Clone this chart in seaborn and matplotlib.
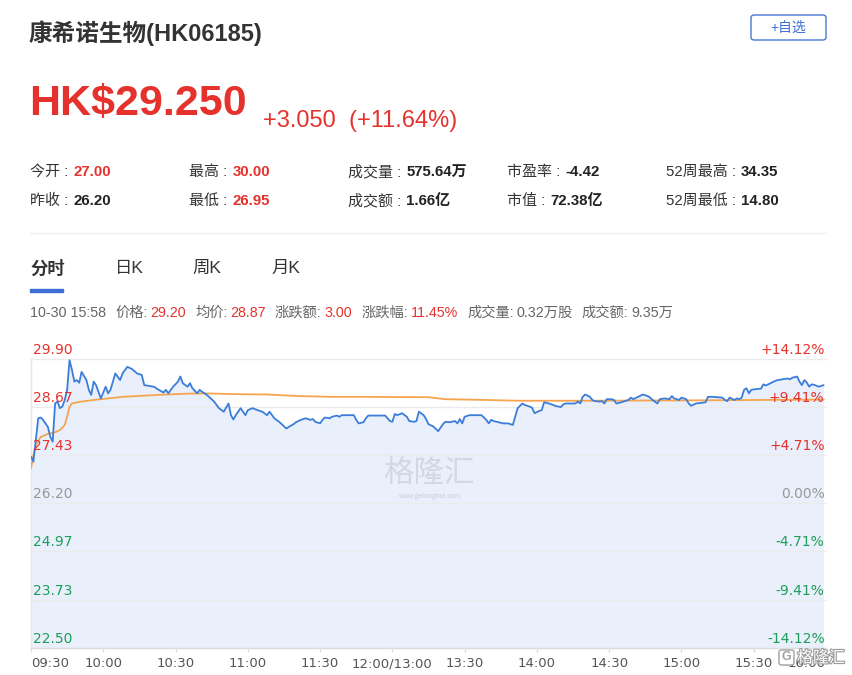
import numpy as np
import pandas as pd
import matplotlib
matplotlib.use("Agg")
import matplotlib.pyplot as plt
import matplotlib.patheffects as pe
from matplotlib.patches import FancyBboxPatch, Rectangle
from matplotlib.lines import Line2D
import seaborn as sns

# intraday data, minute = trading minutes since 09:30 (lunch break skipped)
minute = [0, 1, 3, 4, 5, 7, 8, 9, 10, 11, 12, 13, 14, 15, 16, 17, 18, 19, 20, 21,
          23, 24, 25, 26, 27, 29, 31, 32, 33, 35, 37, 38, 40, 42, 44, 46, 47, 51, 53, 55,
          56, 57, 59, 61, 62, 63, 65, 66, 67, 69, 70, 71, 73, 76, 78, 80, 82, 83, 84, 85,
          87, 89, 90, 92, 94, 96, 98, 99, 101, 103, 106, 107, 109, 110, 112, 114, 116, 117, 118, 120,
          121, 122, 124, 125, 127, 128, 129, 134, 135, 136, 138, 139, 140, 147, 149, 150, 151, 152, 154, 156,
          157, 159, 160, 161, 163, 164, 165, 167, 169, 171, 172, 174, 176, 177, 178, 179, 180, 182, 187, 189,
          190, 191, 192, 194, 196, 198, 200, 201, 202, 204, 205, 207, 208, 209, 211, 212, 213, 215, 216, 218,
          220, 221, 222, 226, 227, 228, 229, 230, 232, 233, 234, 236, 237, 238, 239, 241, 242, 243, 245, 246,
          248, 249, 250, 252, 254, 256, 257, 258, 260, 261, 263, 265, 266, 267, 269, 270, 272, 273, 274, 276,
          280, 281, 283, 287, 288, 289, 290, 292, 293, 294, 295, 296, 297, 298, 299, 301, 303, 304, 305, 307,
          309, 310, 312, 314, 315, 316, 318, 319, 320, 321, 322, 323, 324, 325, 327, 328, 329]
price = [27.40, 27.27, 28.38, 28.40, 28.34, 28.16, 27.91, 27.78, 28.76, 28.81, 28.64, 28.68, 28.85, 29.11, 29.87, 29.62, 29.32, 29.36, 29.29, 29.57,
         29.36, 29.11, 28.98, 29.32, 29.23, 28.89, 29.19, 29.02, 29.11, 29.53, 29.36, 29.53, 29.70, 29.64, 29.53, 29.49, 29.23, 29.19, 29.11, 29.04,
         29.11, 29.02, 29.19, 29.32, 29.45, 29.28, 29.19, 29.28, 29.15, 29.02, 29.11, 29.06, 28.98, 28.81, 28.64, 28.55, 28.76, 28.46, 28.35, 28.46,
         28.64, 28.46, 28.59, 28.64, 28.59, 28.55, 28.46, 28.55, 28.38, 28.29, 28.12, 28.16, 28.23, 28.28, 28.34, 28.38, 28.34, 28.36, 28.29, 28.25,
         28.34, 28.40, 28.38, 28.42, 28.45, 28.42, 28.46, 28.46, 28.34, 28.25, 28.28, 28.38, 28.45, 28.45, 28.31, 28.29, 28.49, 28.46, 28.51, 28.42,
         28.31, 28.29, 28.31, 28.55, 28.46, 28.36, 28.23, 28.17, 28.05, 28.23, 28.29, 28.28, 28.31, 28.25, 28.36, 28.25, 28.42, 28.46, 28.46, 28.34,
         28.25, 28.34, 28.31, 28.28, 28.25, 28.25, 28.21, 28.42, 28.64, 28.76, 28.72, 28.68, 28.65, 28.51, 28.57, 28.59, 28.79, 28.76, 28.74, 28.69,
         28.67, 28.74, 28.76, 28.76, 28.81, 28.76, 28.93, 28.99, 28.93, 28.85, 28.82, 28.81, 28.82, 28.76, 28.87, 28.87, 28.85, 28.76, 28.79, 28.81,
         28.85, 28.91, 28.87, 28.93, 28.99, 28.95, 28.91, 28.85, 28.76, 28.87, 28.89, 28.87, 28.95, 28.89, 28.85, 28.91, 28.87, 28.76, 28.70, 28.76,
         28.79, 28.93, 28.93, 28.91, 28.85, 28.82, 28.91, 28.85, 28.89, 28.87, 28.91, 29.11, 29.15, 29.02, 29.11, 29.13, 29.14, 29.25, 29.22, 29.28,
         29.34, 29.36, 29.38, 29.40, 29.38, 29.42, 29.45, 29.32, 29.23, 29.36, 29.30, 29.19, 29.25, 29.24, 29.19, 29.21, 29.23]

avg_minute = [0, 1, 2, 4, 7, 10, 12, 13, 14, 15, 16, 17, 20, 26, 38, 53, 64, 72, 84, 98,
              111, 125, 139, 165, 172, 189, 202, 230, 277, 329]
avg_price = [27.10, 27.44, 27.70, 27.90, 27.98, 28.02, 28.08, 28.14, 28.21, 28.42, 28.68, 28.76, 28.80, 28.85, 28.93, 28.98, 29.01, 29.02, 29.00, 28.99,
             28.95, 28.93, 28.93, 28.92, 28.87, 28.85, 28.83, 28.83, 28.84, 28.86]

y_levels = [29.90, 28.67, 27.43, 26.20, 24.97, 23.73, 22.50]
pct_labels = ["+14.12%", "+9.41%", "+4.71%", "0.00%", "-4.71%", "-9.41%", "-14.12%"]
tick_minutes = [0, 30, 60, 90, 120, 150, 180, 210, 240, 270, 300, 330]
tick_labels = ["09:30", "10:00", "10:30", "11:00", "11:30", "12:00/13:00", "13:30",
               "14:00", "14:30", "15:00", "15:30", "16:00"]

stats_labels = [["今开 :", "最高 :", "成交量 :", "市盈率 :", "52周最高 :"],
                ["昨收 :", "最低 :", "成交额 :", "市值 :", "52周最低 :"]]
stats_values = [["27.00", "30.00", "575.64万", "-4.42", "34.35"],
                ["26.20", "26.95", "1.66亿", "72.38亿", "14.80"]]
stats_red = [[True, True, False, False, False],
             [False, True, False, False, False]]

info_items = [("价格:", "29.20", True), ("均价:", "28.87", True), ("涨跌额:", "3.00", True),
              ("涨跌幅:", "11.45%", True), ("成交量:", "0.32万股", False), ("成交额:", "9.35万", False)]

RED = "#e5322d"
GREEN = "#1e9e5a"
BLUE = "#3b7dd8"
ORANGE = "#f5a54f"
FILL = "#e9effb"
DARK = "#333333"
MID = "#666666"

sns.set_theme(style="white")
plt.rcParams["font.family"] = ["Liberation Sans", "Noto Sans CJK SC", "DejaVu Sans"]

W, H = 853, 675
fig = plt.figure(figsize=(W / 100, H / 100), dpi=100)
renderer = fig.canvas.get_renderer()


def put(x, y, s, **kw):
    kw.setdefault("va", "center")
    return fig.text(x / W, 1 - y / H, s, **kw)


def right_of(t):
    return t.get_window_extent(renderer).x1


# header
put(29, 33, "康希诺生物(HK06185)", fontsize=17, fontweight="bold", color=DARK)
fig.add_artist(FancyBboxPatch((751 / W, 1 - 40 / H), 75 / W, 25 / H,
                              boxstyle="round,pad=0,rounding_size=0.004",
                              transform=fig.transFigure, fc="white", ec="#4a78d4", lw=1))
put(788, 28, "+自选", fontsize=10, color="#3d6fd6", ha="center")

put(29, 104, "HK$29.250", fontsize=31, fontweight="bold", color=RED)
put(263, 121, "+3.050  (+11.64%)", fontsize=17, color=RED)

col_x = [30, 189, 348, 507, 666]
row_y = [172, 201]
for r in range(2):
    for c in range(5):
        lab = put(col_x[c], row_y[r], stats_labels[r][c], fontsize=10.8, color=DARK)
        x1 = right_of(lab)
        put(x1 + 5, row_y[r], stats_values[r][c], fontsize=10.8, fontweight="bold",
            color=RED if stats_red[r][c] else "#222222")

fig.add_artist(Line2D([30 / W, 826 / W], [1 - 233 / H] * 2, color="#eeeeee", lw=1,
                      transform=fig.transFigure))

# tabs
put(30, 268, "分时", fontsize=12.5, fontweight="bold", color=DARK)
put(115, 268, "日K", fontsize=12.5, color=DARK)
put(192, 268, "周K", fontsize=12.5, color=DARK)
put(271, 268, "月K", fontsize=12.5, color=DARK)
fig.add_artist(Rectangle((30 / W, 1 - 292 / H), 33 / W, 3 / H, color="#3d6fd6",
                         transform=fig.transFigure))

# info line
t = put(30, 313, "10-30 15:58", fontsize=10.3, color=MID)
x = right_of(t) + 9
for lab, val, red in info_items:
    t = put(x, 313, lab, fontsize=10.3, color=MID)
    t = put(right_of(t) + 3, 313, val, fontsize=10.3, color=RED if red else MID)
    x = right_of(t) + 9

# chart
ax = fig.add_axes([31 / W, 1 - 647.7 / H, (826 - 31) / W, (647.7 - 359) / H])
df = pd.DataFrame({"minute": minute, "price": price})
avg = pd.DataFrame({"minute": avg_minute, "price": avg_price})
ax.fill_between(df["minute"], df["price"], y_levels[-1], color=FILL, lw=0, zorder=1)
sns.lineplot(data=df, x="minute", y="price", ax=ax, color=BLUE, lw=1.3, zorder=4)
sns.lineplot(data=avg, x="minute", y="price", ax=ax, color=ORANGE, lw=1.3, zorder=3)
ax.set_xlim(0, 330)
ax.set_ylim(y_levels[-1], y_levels[0])
for lv in y_levels:
    ax.axhline(lv, color="#ebebeb", lw=1, zorder=2, clip_on=False)

colors = [RED, RED, RED, "#999999", GREEN, GREEN, GREEN]
for lv, pl, col in zip(y_levels, pct_labels, colors):
    ax.annotate(f"{lv:.2f}", xy=(0, lv), xycoords=("axes fraction", "data"),
                xytext=(1.5, 1.5), textcoords="offset points", ha="left", va="bottom",
                fontsize=10, color=col, family="DejaVu Sans", zorder=6, annotation_clip=False)
    ax.annotate(pl, xy=(1, lv), xycoords=("axes fraction", "data"),
                xytext=(-1, 1.5), textcoords="offset points", ha="right", va="bottom",
                fontsize=10, color=col, family="DejaVu Sans", zorder=6, annotation_clip=False)

ax.set_yticks([])
ax.set_xticks(tick_minutes)
ax.set_xticklabels(tick_labels, family="DejaVu Sans", fontsize=9.5, color="#555555")
lbls = ax.get_xticklabels()
lbls[0].set_ha("left")
lbls[-1].set_ha("right")
ax.tick_params(axis="x", length=3, width=1, color="#dddddd", pad=4, bottom=True)
ax.set_xlabel("")
ax.set_ylabel("")
for side in ["top", "right"]:
    ax.spines[side].set_visible(False)
ax.spines["left"].set_color("#e6e6e6")
ax.spines["bottom"].set_color("#dddddd")
ax.spines["left"].set_linewidth(1)
ax.spines["bottom"].set_linewidth(1)
ax.set_facecolor("white")

# watermarks
put(429, 473, "格隆汇", fontsize=22, color="#cdd2db", ha="center", alpha=0.8,
    family=["Noto Sans CJK SC"], zorder=5)
put(429, 496, "www.gelonghui.com", fontsize=5, color="#c9ced8", ha="center", zorder=5)
fig.add_artist(FancyBboxPatch((779 / W, 1 - 665 / H), 15 / W, 15 / H,
                              boxstyle="round,pad=0,rounding_size=0.003",
                              transform=fig.transFigure, fc="white", ec="#a0a0a0", lw=1, zorder=7))
put(786.5, 657.5, "G", fontsize=9, color="#a0a0a0", ha="center", fontweight="bold", zorder=8)
put(797, 658, "格隆汇", fontsize=11.5, color="white", family=["Noto Sans CJK SC"], zorder=8,
    path_effects=[pe.withStroke(linewidth=1.6, foreground="#9a9a9a")])

fig.savefig("out.png", dpi=100, facecolor="white")
